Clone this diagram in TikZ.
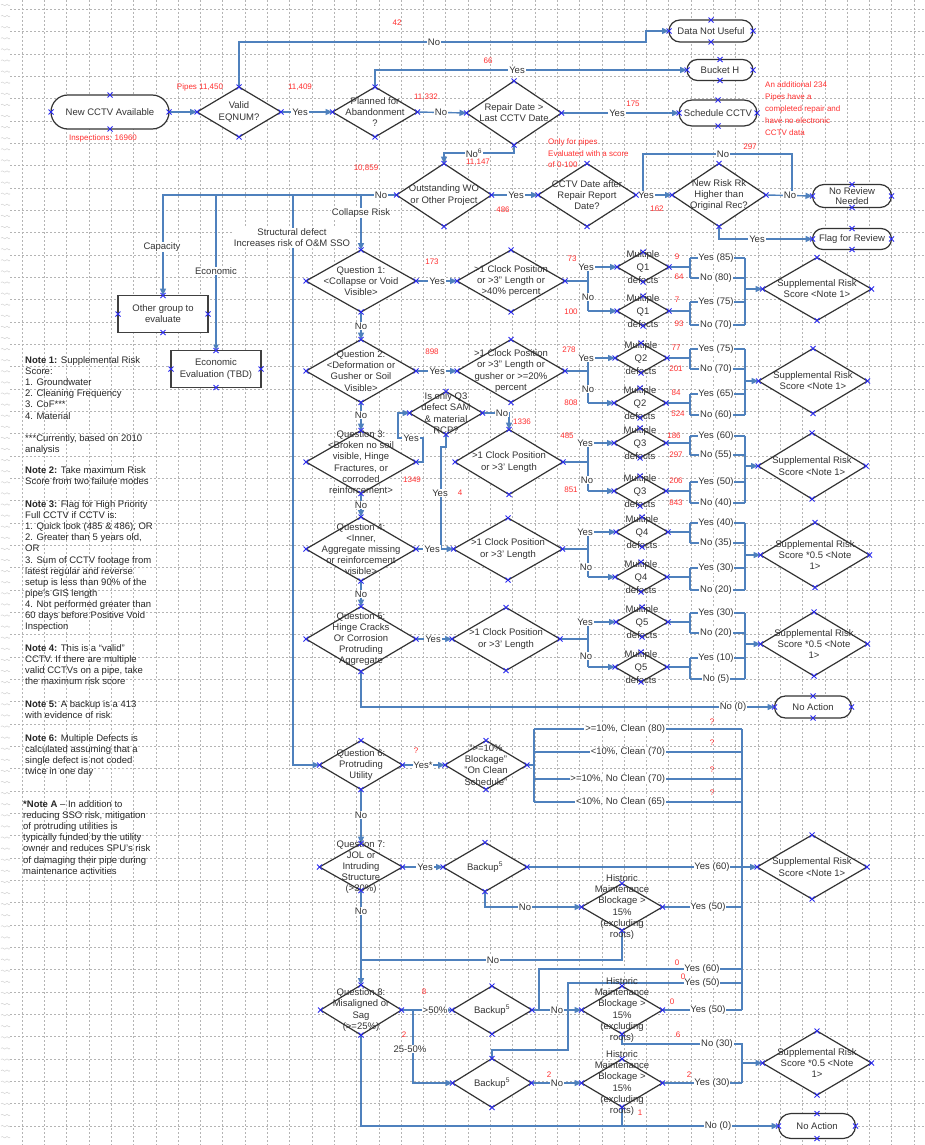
\documentclass[tikz,border=0pt]{standalone}
\usepackage{fontspec}
\setmainfont{Liberation Sans}
\usetikzlibrary{shapes.geometric,shapes.misc,arrows.meta,calc}
\definecolor{lblue}{HTML}{4F81BD}
\definecolor{xblue}{HTML}{2B2BF0}
\definecolor{tgray}{HTML}{333333}
\definecolor{redn}{HTML}{FF3030}
\definecolor{gridc}{HTML}{B4B4B4}
\newcommand\fnt{\fontsize{9.5}{11.2}\selectfont}
\newcommand\frd{\fontsize{8}{11.8}\selectfont}
\newcounter{lbc}
\newcommand\lb[3]{\stepcounter{lbc}\edef\tmpn{lb\arabic{lbc}}\node[lab] (\tmpn) at (#1,#2) {#3};}
\newcommand\rd[3]{\stepcounter{lbc}\edef\tmpn{rd\arabic{lbc}}\node[rednum] (\tmpn) at (#1,#2) {#3};}
\newcommand\xm[1]{\foreach \an in {north,south,east,west}{\draw[xmk] ([shift={(-2.5,-2.5)}]#1.\an) -- ++(5,5) ([shift={(-2.5,2.5)}]#1.\an) -- ++(5,-5);}}
\newcommand\dia[5]{\node[dshape, minimum width=#4pt, minimum height=#5pt] (#1) at (#2,#3) {};}
\newcommand\dsp[6]{\draw[conn] (#1.east) -- (588,#2) (588,#3) -- (588,#4);
  \draw[arr] (588,#3) -- (#5.west); \draw[arr] (588,#4) -- (#6.west);}
\newcommand\mdo[6]{\draw[conn] (#1.east) -- (690,#2) (690,#3) -- (690,#4) (690,#3) -- (745,#3) (690,#4) -- (745,#4);
  \lb{716}{#3}{#5}\lb{716}{#4}{#6}}
\begin{document}
\begin{tikzpicture}[x=1pt,y=-1pt,
  dshape/.style={diamond, draw=tgray, line width=1.2pt, fill=white, inner sep=0pt, outer sep=0pt},
  term/.style={rounded rectangle, draw=tgray, line width=1.2pt, fill=white, inner sep=1pt, outer sep=0pt, align=center, font=\fnt, text=tgray},
  box/.style={rectangle, draw=black!75, line width=1.8pt, fill=white, inner sep=1pt, outer sep=0pt, align=center, font=\fnt, text=tgray},
  dtext/.style={align=center, font=\fnt, text=tgray, inner sep=0pt},
  mdtext/.style={align=center, font={\fontsize{9.5}{13}\selectfont}, text=tgray, inner sep=0pt},
  lab/.style={fill=white, inner sep=0.8pt, font=\fnt, text=tgray},
  rednum/.style={font=\frd, text=redn, inner sep=0pt},
  redblk/.style={font=\frd, text=redn, inner sep=0pt, align=left, anchor=north west},
  note/.style={font={\fontsize{9.5}{11.1}\selectfont}, text=black!85, inner sep=0pt, align=left, anchor=north west},
  conn/.style={draw=lblue, line width=1.4pt},
  arr/.style={conn, -{Triangle[length=7pt,width=6pt]}},
  tarr/.style={draw=lblue, line width=2.6pt, -{Triangle[length=6pt,width=5pt]}},
  xmk/.style={draw=xblue, line width=0.8pt},
  gridl/.style={draw=gridc, line width=0.5pt, dash pattern=on 2pt off 2pt}]
\useasboundingbox (0,0) rectangle (924,1145);
\fill[white] (0,0) rectangle (924,1145);
% grid
\foreach \i in {0,...,40} \draw[gridl] ({22+22.3*\i},0) -- ({22+22.3*\i},1145);
\foreach \j in {0,...,50} \draw[gridl] (10,{9.3+22.33*\j}) -- (924,{9.3+22.33*\j});
\foreach \j in {0,...,102} \draw[gray!35, line width=0.5pt] (1,{5+11.1*\j}) .. controls (3,{2.5+11.1*\j}) and (4,{7.5+11.1*\j}) .. (6,{5+11.1*\j}) .. controls (7.5,{2.5+11.1*\j}) and (8.5,{7.5+11.1*\j}) .. (10,{5+11.1*\j});

% ---------- terminals and boxes
\node[term, minimum width=120pt, minimum height=34pt] (newcctv) at (110,112) {New CCTV Available};
\node[term, minimum width=86pt, minimum height=22pt] (dnu) at (711,31) {Data Not Useful};
\node[term, minimum width=68pt, minimum height=21pt] (bucket) at (720,70) {Bucket H};
\node[term, minimum width=80pt, minimum height=26pt] (sched) at (718,113) {Schedule CCTV};
\node[term, minimum width=81pt, minimum height=23pt, font={\fontsize{9.5}{10.5}\selectfont}] (norev) at (852,196) {No Review\\Needed};
\node[term, minimum width=81pt, minimum height=21pt] (flag) at (852,239) {Flag for Review};
\node[term, minimum width=79pt, minimum height=22pt] (noact1) at (813,707) {No Action};
\node[term, minimum width=79pt, minimum height=25pt] (noact2) at (817,1126) {No Action};
\node[box, minimum width=90pt, minimum height=37pt] (other) at (163,314) {Other group to\\evaluate};
\node[box, minimum width=90pt, minimum height=37pt] (econ) at (216,369) {Economic\\Evaluation (TBD)};

% ---------- diamonds
\dia{valid}{239}{112}{84}{50}
\dia{plan}{375}{112}{85}{50}
\dia{repair}{514}{113}{95}{64}
\dia{outst}{444}{195}{95}{63}
\dia{cctvd}{587}{195}{98}{63}
\dia{newrisk}{719}{195}{94}{63}
\dia{q1}{361}{281}{110}{62}
\dia{q2}{361}{371}{110}{63}
\dia{q3}{361}{462}{110}{63}
\dia{q4}{361}{549}{110}{64}
\dia{q5}{361}{639}{110}{65}
\dia{d1}{511}{281}{108}{62}
\dia{d2}{511}{371}{108}{63}
\dia{d3}{509}{462}{108}{65}
\dia{d4}{508}{549}{109}{62}
\dia{d5}{506}{639}{108}{63}
\dia{sm3}{446}{413}{73}{43}
\dia{md1a}{643}{267}{52}{30}
\dia{md1b}{643}{311}{52}{30}
\dia{md2a}{641}{358}{52}{30}
\dia{md2b}{640}{403}{52}{30}
\dia{md3a}{640}{443}{52}{30}
\dia{md3b}{640}{491}{52}{30}
\dia{md4a}{642}{532}{52}{30}
\dia{md4b}{641}{577}{52}{30}
\dia{md5a}{642}{622}{52}{30}
\dia{md5b}{641}{667}{52}{30}
\dia{supp1}{817}{289}{109}{63}
\dia{supp2}{813}{381}{109}{65}
\dia{supp3}{812}{466}{108}{66}
\dia{supp4}{815}{555}{109}{65}
\dia{supp5}{814}{644}{107}{64}
\dia{supp6}{812}{867}{110}{64}
\dia{supp7}{817}{1063}{109}{64}
\dia{q6}{361}{765}{83}{49}
\dia{d6}{486}{765}{82}{49}
\dia{q7}{361}{867}{83}{47}
\dia{bk1}{485}{867}{84}{49}
\dia{hm1}{622}{907}{81}{47}
\dia{q8}{361}{1010}{81}{50}
\dia{bk2}{492}{1010}{80}{48}
\dia{hm2}{622}{1010}{81}{48}
\dia{bk3}{492}{1083}{79}{49}
\dia{hm3}{622}{1083}{81}{48}

% ---------- connectors: top
\draw[arr] (newcctv.east) -- (valid.west);
\draw[arr] (valid.east) -- (plan.west);
\draw[arr] (plan.east) -- (repair.west);
\draw[arr] (valid.north) |- (646,42) |- (dnu.west);
\draw[arr] (plan.north) |- (bucket.west);
\draw[arr] (repair.east) -- (sched.west);
\draw[arr] (repair.south) -- ++(0,8) -| (outst.north);
\draw[arr] (outst.east) -- (cctvd.west);
\draw[arr] (cctvd.east) -- (newrisk.west);
\draw[conn] (cctvd.east) -- ++(7,0) |- (792,154) -- (792,196);
\draw[arr] (newrisk.east) -- (norev.west);
\draw[arr] (newrisk.south) |- (flag.west);
\draw[arr] (outst.west) -| (other.north);
\draw[tarr] (216,195) -- (econ.north);
\draw[arr] (293,195) |- (q6.west);
\draw[arr] (361,195) -- (q1.north);
% questions
\draw[arr] (q1.south) -- (q2.north);
\draw[arr] (q2.south) -- (q3.north);
\draw[arr] (q3.south) -- (q4.north);
\draw[arr] (q4.south) -- (q5.north);
\draw[arr] (q1.east) -- (d1.west);
\draw[arr] (q2.east) -- (d2.west);
\draw[arr] (q4.east) -- (d4.west);
\draw[arr] (q5.east) -- (d5.west);
\draw[arr] (q3.east) -- (423,462) -- (423,438) -- (398,438) -- (398,413) -- (sm3.west);
\draw[arr] (sm3.east) -| (d3.north);
\draw[conn] (sm3.south) -- (446,447) -- (441,447) -- (441,549);
\dsp{d1}{281}{267}{311}{md1a}{md1b}
\dsp{d2}{371}{358}{403}{md2a}{md2b}
\dsp{d3}{462}{443}{491}{md3a}{md3b}
\dsp{d4}{549}{532}{577}{md4a}{md4b}
\dsp{d5}{639}{622}{667}{md5a}{md5b}
\draw[conn] (745,258) -- (745,325);
\draw[conn] (745,349) -- (745,415);
\draw[conn] (745,436) -- (745,503);
\draw[conn] (745,523) -- (745,590);
\draw[conn] (745,613) -- (745,679);
\draw[arr] (745,289) -- (supp1.west);
\draw[arr] (745,381) -- (supp2.west);
\draw[arr] (745,466) -- (supp3.west);
\draw[arr] (745,555) -- (supp4.west);
\draw[arr] (745,644) -- (supp5.west);
\mdo{md1a}{267}{258}{278}{Yes (85)}{No (80)}
\mdo{md1b}{311}{302}{325}{Yes (75)}{No (70)}
\mdo{md2a}{358}{349}{369}{Yes (75)}{No (70)}
\mdo{md2b}{403}{394}{415}{Yes (65)}{No (60)}
\mdo{md3a}{443}{436}{455}{Yes (60)}{No (55)}
\mdo{md3b}{491}{482}{503}{Yes (50)}{No (40)}
\mdo{md4a}{532}{523}{543}{Yes (40)}{No (35)}
\mdo{md4b}{577}{568}{590}{Yes (30)}{No (20)}
\mdo{md5a}{622}{613}{633}{Yes (30)}{No (20)}
\mdo{md5b}{667}{658}{679}{Yes (10)}{No (5)}
\draw[arr] (q5.south) |- (noact1.west);
% lower block
\draw[arr] (q6.east) -- (d6.west);
\draw[conn] (d6.east) -- (534,765) (534,729) -- (534,802);
\foreach \yy in {729,752,779,802} \draw[conn] (534,\yy) -- (742,\yy);
\draw[conn] (742,729) -- (742,1010);
\draw[arr] (q6.south) -- (q7.north);
\draw[arr] (q7.east) -- (bk1.west);
\draw[arr] (bk1.east) -- (supp6.west);
\draw[arr] (bk1.south) |- (hm1.west);
\draw[conn] (hm1.east) -- (742,907);
\draw[conn] (hm1.south) |- (361,960);
\draw[arr] (q7.south) -- (q8.north);
\draw[arr] (q8.east) -- (bk2.west);
\draw[arr] (413,1010) |- (bk3.west);
\draw[arr] (bk2.east) -- (hm2.west);
\draw[conn] (bk2.east) -- (539,1010) |- (742,969);
\draw[conn] (bk3.north) -- (492,1050) -| (568,983) -- (742,983);
\draw[conn] (hm2.east) -- (742,1010);
\draw[conn] (hm2.south) |- (742,1044) -- (742,1083);
\draw[arr] (742,1063) -- (supp7.west);
\draw[arr] (bk3.east) -- (hm3.west);
\draw[conn] (hm3.east) -- (742,1083);
\draw[arr] (hm3.south) |- (noact2.west);
\draw[conn] (q8.south) |- (622,1126);

% ---------- diamond texts
\node[dtext] (validt) at (valid) {Valid\\EQNUM?};
\node[dtext] (plant) at (plan) {Planned for\\Abandonment\\?};
\node[dtext] (repairt) at (repair) {Repair Date >\\Last CCTV Date};
\node[dtext] (outstt) at (outst) {Outstanding WO\\or Other Project};
\node[dtext] (cctvdt) at (cctvd) {CCTV Date after\\Repair Report\\Date?};
\node[dtext] (newriskt) at (newrisk) {New Risk Rk\\Higher than\\Original Rec?};
\node[dtext] (q1t) at (q1) {Question 1:\\<Collapse or Void\\Visible>};
\node[dtext] (q2t) at (q2) {Question 2:\\<Deformation or\\Gusher or Soil\\Visible>};
\node[dtext] (q3t) at (q3) {Question 3:\\<Broken no soil\\visible, Hinge\\Fractures, or\\corroded\\reinforcement>};
\node[dtext] (q4t) at (q4) {Question 4:\\<Inner,\\Aggregate missing\\or reinforcement\\visible>};
\node[dtext] (q5t) at (q5) {Question 5:\\Hinge Cracks\\Or Corrosion\\Protruding\\Aggregate};
\node[dtext] (d1t) at (d1) {>1 Clock Position\\or >3" Length or\\>40\% percent};
\node[dtext] (d2t) at (d2) {>1 Clock Position\\or >3" Length or\\gusher or >=20\%\\percent};
\node[dtext] (d3t) at (d3) {>1 Clock Position\\or >3' Length};
\node[dtext] (d4t) at (d4) {>1 Clock Position\\or >3' Length};
\node[dtext] (d5t) at (d5) {>1 Clock Position\\or >3' Length};
\node[dtext] (sm3t) at (sm3) {Is only Q3\\defect SAM\\\& material\\RCP?};
\node[mdtext] (md1at) at (md1a) {Multiple\\Q1\\defects};
\node[mdtext] (md1bt) at (md1b) {Multiple\\Q1\\defects};
\node[mdtext] (md2at) at (md2a) {Multiple\\Q2\\defects};
\node[mdtext] (md2bt) at (md2b) {Multiple\\Q2\\defects};
\node[mdtext] (md3at) at (md3a) {Multiple\\Q3\\defects};
\node[mdtext] (md3bt) at (md3b) {Multiple\\Q3\\defects};
\node[mdtext] (md4at) at (md4a) {Multiple\\Q4\\defects};
\node[mdtext] (md4bt) at (md4b) {Multiple\\Q4\\defects};
\node[mdtext] (md5at) at (md5a) {Multiple\\Q5\\defects};
\node[mdtext] (md5bt) at (md5b) {Multiple\\Q5\\defects};
\node[dtext] (supp1t) at (supp1) {Supplemental Risk\\Score <Note 1>};
\node[dtext] (supp2t) at (supp2) {Supplemental Risk\\Score <Note 1>};
\node[dtext] (supp3t) at (supp3) {Supplemental Risk\\Score <Note 1>};
\node[dtext] (supp4t) at (supp4) {Supplemental Risk\\Score *0.5 <Note\\1>};
\node[dtext] (supp5t) at (supp5) {Supplemental Risk\\Score *0.5 <Note\\1>};
\node[dtext] (supp6t) at (supp6) {Supplemental Risk\\Score <Note 1>};
\node[dtext] (supp7t) at (supp7) {Supplemental Risk\\Score *0.5 <Note\\1>};
\node[dtext] (q6t) at (q6) {Question 6:\\Protruding\\Utility};
\node[dtext] (d6t) at (d6) {">=10\%\\Blockage"\\"On Clean\\Schedule"};
\node[dtext] (q7t) at (q7) {Question 7:\\JOL or\\Intruding\\Structure\\(>30\%)};
\node[dtext] (bk1t) at (bk1) {Backup\textsuperscript{5}};
\node[dtext] (bk2t) at (bk2) {Backup\textsuperscript{5}};
\node[dtext] (bk3t) at (bk3) {Backup\textsuperscript{5}};
\node[dtext] (hm1t) at (hm1) {Historic\\Maintenance\\Blockage >\\15\%\\(excluding\\roots)};
\node[dtext] (hm2t) at (hm2) {Historic\\Maintenance\\Blockage >\\15\%\\(excluding\\roots)};
\node[dtext] (hm3t) at (hm3) {Historic\\Maintenance\\Blockage >\\15\%\\(excluding\\roots)};
\node[dtext] (q8t) at (q8) {Question 8:\\Misaligned or\\Sag\\(>=25\%)};

% ---------- connector labels
\lb{300}{112}{Yes}
\lb{441}{112}{No}
\lb{434}{42}{No}
\lb{517}{70}{Yes}
\lb{617}{113}{Yes}
\lb{474}{153}{No\textsuperscript{6}}
\lb{516}{195}{Yes}
\lb{646}{195}{Yes}
\lb{723}{154}{No}
\lb{790}{195}{No}
\lb{757}{239}{Yes}
\lb{381}{195}{No}
\lb{162}{247}{Capacity}
\lb{216}{271}{Economic}
\node[lab, align=center] (sdlab) at (292,238) {Structural defect\\Increases risk of O\&M SSO};
\lb{361}{213}{Collapse Risk}
\lb{437}{281}{Yes}
\lb{361}{326}{No}
\lb{437}{371}{Yes}
\lb{361}{415}{No}
\lb{411}{438}{Yes}
\lb{361}{505}{No}
\lb{432}{549}{Yes}
\lb{361}{594}{No}
\lb{433}{639}{Yes}
\lb{502}{413}{No}
\lb{440}{493}{Yes}
\lb{586}{267}{Yes}\lb{588}{297}{No}
\lb{586}{358}{Yes}\lb{588}{389}{No}
\lb{585}{443}{Yes}\lb{587}{480}{No}
\lb{585}{532}{Yes}\lb{586}{567}{No}
\lb{585}{622}{Yes}\lb{586}{656}{No}
\lb{733}{707}{No (0)}
\lb{423}{765}{Yes*}
\foreach \yy/\tt in {729/{>=10\%, Clean (80)},752/{<10\%, Clean (70)},779/{>=10\%, No Clean (70)},802/{<10\%, No Clean (65)}}
  {\node[lab, anchor=east] (g\yy) at (666,\yy) {\tt};}
\lb{361}{815}{No}
\lb{425}{867}{Yes}
\lb{712}{867}{Yes (60)}
\lb{525}{907}{No}
\lb{708}{907}{Yes (50)}
\lb{493}{960}{No}
\lb{361}{911}{No}
\lb{435}{1010}{>50\%}
\lb{410}{1049}{25-50\%}
\lb{557}{1010}{No}
\lb{702}{969}{Yes (60)}
\lb{702}{983}{Yes (50)}
\lb{708}{1010}{Yes (50)}
\lb{717}{1044}{No (30)}
\lb{557}{1083}{No}
\lb{712}{1083}{Yes (30)}
\lb{718}{1126}{No (0)}

% ---------- red annotations
\rd{397}{23}{42}
\rd{488}{61}{66}
\rd{200}{87}{Pipes 11,450}
\rd{300}{87}{11,409}
\rd{103}{138}{Inspections: 16960}
\rd{426}{97}{11,332}
\rd{633}{104}{175}
\node[redblk] (addl) at (765,82) {An additional 234\\Pipes have a\\completed repair and\\have no electronic\\CCTV data};
\rd{478}{162}{11,147}
\rd{366}{168}{10,859}
\node[redblk, font={\fontsize{8}{11.5}\selectfont}] (onlyp) at (548,139) {Only for pipes\\Evaluated with a score\\of 0-100};
\rd{503}{210}{486}
\rd{657}{209}{162}
\rd{750}{147}{297}
\rd{432}{262}{173}
\rd{432}{352}{898}
\rd{522}{422}{1336}
\rd{412}{480}{1349}
\rd{460}{493}{4}
\rd{572}{259}{73}
\rd{571}{312}{100}
\rd{569}{350}{278}
\rd{571}{403}{808}
\rd{567}{436}{485}
\rd{571}{490}{851}
\rd{677}{257}{9}\rd{679}{277}{64}\rd{677}{300}{7}\rd{679}{324}{93}
\rd{676}{348}{77}\rd{676}{369}{201}\rd{676}{393}{84}\rd{678}{414}{524}
\rd{674}{436}{186}\rd{676}{455}{297}\rd{676}{481}{206}\rd{676}{503}{843}
\rd{416}{751}{?}
\rd{712}{722}{?}\rd{712}{743}{?}\rd{712}{770}{?}\rd{712}{793}{?}
\rd{424}{992}{8}
\rd{404}{1035}{2}
\rd{549}{1075}{2}
\rd{677}{963}{0}
\rd{683}{977}{0}
\rd{672}{1002}{0}
\rd{678}{1035}{6}
\rd{689}{1075}{2}
\rd{640}{1113}{1}

% ---------- notes
\node[note] (n1) at (25,356.5) {\textbf{Note 1:} Supplemental Risk\\Score:\\1. Groundwater\\2. Cleaning Frequency\\3. CoF***\\4. Material};
\node[note] (n1b) at (25,434.5) {***Currently, based on 2010\\analysis};
\node[note] (n2) at (25,466.5) {\textbf{Note 2:} Take maximum Risk\\Score from two failure modes};
\node[note] (n3) at (25,500.5) {\textbf{Note 3:} Flag for High Priority\\Full CCTV if CCTV is:\\1. Quick look (485 \& 486), OR\\2. Greater than 5 years old,\\OR\\3. Sum of CCTV footage from\\latest regular and reverse\\setup is less than 90\% of the\\pipe's GIS length\\4. Not performed greater than\\60 days before Positive Void\\Inspection};
\node[note] (n4) at (25,644.5) {\textbf{Note 4:} This is a “valid”\\CCTV. If there are multiple\\valid CCTVs on a pipe, take\\the maximum risk score};
\node[note] (n5) at (25,700.5) {\textbf{Note 5:} A backup is a 413\\with evidence of risk};
\node[note] (n6) at (25,734.5) {\textbf{Note 6:} Multiple Defects is\\calculated assuming that a\\single defect is not coded\\twice in one day};
\node[note] (na) at (23,800.5) {\textbf{*Note A} – In addition to\\reducing SSO risk, mitigation\\of protruding utilities is\\typically funded by the utility\\owner and reduces SPU's risk\\of damaging their pipe during\\maintenance activities};

% ---------- connection point markers
\foreach \n in {newcctv,dnu,bucket,sched,norev,flag,noact1,noact2,other,econ,valid,plan,repair,outst,cctvd,newrisk,q1,q2,q3,q4,q5,q6,q7,q8,d1,d2,d3,d4,d5,d6,sm3,md1a,md1b,md2a,md2b,md3a,md3b,md4a,md4b,md5a,md5b,supp1,supp2,supp3,supp4,supp5,supp6,supp7,bk1,bk2,bk3,hm1,hm2,hm3} {\xm{\n}}
\end{tikzpicture}
\end{document}
